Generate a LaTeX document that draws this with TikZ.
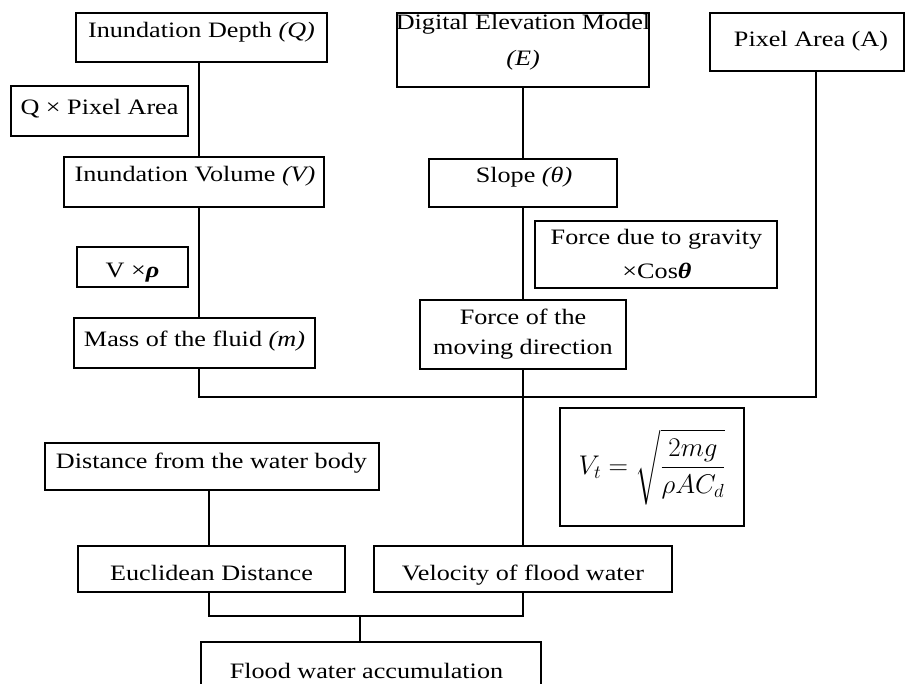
\RequirePackage{fix-cm}
\documentclass[tikz,border=0pt]{standalone}
\usepackage{amsmath}
\usepackage{fontspec}
\setmainfont{Liberation Serif}[FakeStretch=1.19]
\usetikzlibrary{fit}
\begin{document}
\begin{tikzpicture}[x=1pt,y=-1pt,
  box/.style={draw=black, line width=1.9pt, inner sep=0pt, fill=none},
  txt/.style={inner sep=0pt, anchor=base, font=\fontsize{22}{30}\selectfont},
  conn/.style={draw=black, line width=1.9pt}]
\useasboundingbox (0,0) rectangle (907,684);
% column / row coordinates for connectors
\coordinate (cA) at (199,0);
\coordinate (cB) at (209,0);
\coordinate (cC) at (360,0);
\coordinate (cD) at (523,0);
\coordinate (cE) at (816,0);
\coordinate (rA) at (0,397);
\coordinate (rB) at (0,616);
% boxes
\node[box, fit={(76,13) (327,62)}] (depth) {};
\node[box, fit={(11,86) (188,136)}] (qpa) {};
\node[box, fit={(64,157) (324,207)}] (vol) {};
\node[box, fit={(77,247) (188,287)}] (vrho) {};
\node[box, fit={(74,318) (315,368)}] (mass) {};
\node[box, fit={(397,13) (649,87)}] (dem) {};
\node[box, fit={(429,159) (617,207)}] (slope) {};
\node[box, fit={(710,13) (904,71)}] (pix) {};
\node[box, fit={(535,221) (777,288)}] (fgrav) {};
\node[box, fit={(420,300) (626,369)}] (fmove) {};
\node[box, fit={(45,443) (379,490)}] (dist) {};
\node[box, fit={(78,546) (345,592)}] (eucl) {};
\node[box, fit={(374,546) (672,592)}] (vel) {};
\node[box, fit={(560,408) (744,526)}] (vt) {};
\node[box, fit={(201,642) (541,700)}] (flood) {};
% texts
\node[txt] (depthT) at (201.5,38) {Inundation Depth \textit{(Q)}};
\node[txt] (qpaT) at (99.5,115) {Q × Pixel Area};
\node[txt] (volT) at (195,182) {Inundation Volume \textit{(V)}};
\node[txt] (vrhoT) at (132.5,278) {V ×\textbf{\textit{ρ}}};
\node[txt] (massT) at (194.5,346) {Mass of the fluid \textit{(m)}};
\node[txt] (demT1) at (523,30) {Digital Elevation Model};
\node[txt] (demT2) at (523,66) {\textit{(E)}};
\node[txt] (slopeT) at (524,183) {Slope \textit{(θ)}};
\node[txt] (pixT) at (811,47) {Pixel Area (A)};
\node[txt] (fgravT1) at (656.5,245) {Force due to gravity};
\node[txt] (fgravT2) at (657,279) {×Cos\textbf{\textit{θ}}};
\node[txt] (fmoveT1) at (523,325) {Force of the};
\node[txt] (fmoveT2) at (523,355) {moving direction};
\node[txt] (distT) at (211.5,468) {Distance from the water body};
\node[txt] (euclT) at (211.5,580) {Euclidean Distance};
\node[txt] (velT) at (523,580) {Velocity of flood water};
\node[txt] (floodT) at (366.5,678) {Flood water accumulation};
\node[inner sep=0pt, font=\fontsize{27}{32}\selectfont] (vtT) at (652,467) {$V_t = \sqrt{\dfrac{2mg}{\rho A C_d}}$};
% connectors
\draw[conn] (depth.south -| cA) -- (vol.north -| cA);
\draw[conn] (vol.south -| cA) -- (mass.north -| cA);
\draw[conn] (mass.south -| cA) -- (cA |- rA) -- (cE |- rA) -- (pix.south -| cE);
\draw[conn] (dem.south -| cD) -- (slope.north -| cD);
\draw[conn] (slope.south -| cD) -- (fmove.north -| cD);
\draw[conn] (fmove.south -| cD) -- (vel.north -| cD);
\draw[conn] (dist.south -| cB) -- (eucl.north -| cB);
\draw[conn] (eucl.south -| cB) -- (cB |- rB) -- (cD |- rB) -- (vel.south -| cD);
\draw[conn] (cC |- rB) -- (flood.north -| cC);
\end{tikzpicture}
\end{document}
